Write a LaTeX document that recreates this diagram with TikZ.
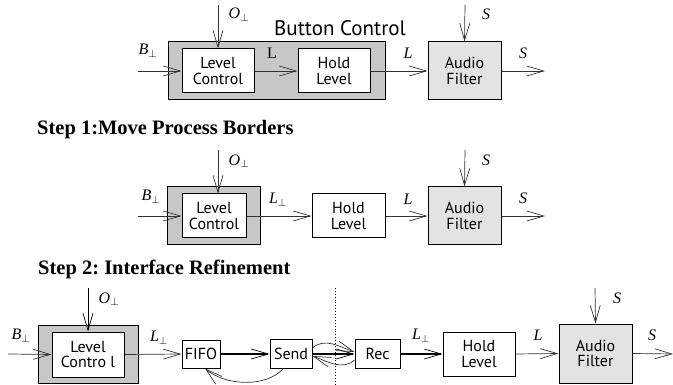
\documentclass[tikz,border=0pt]{standalone}
\usepackage{fontspec}
\setmainfont{Liberation Serif}
\newfontfamily\boxfont{PT Sans}
\usetikzlibrary{arrows.meta}
\frenchspacing

% signal names: italic Times-like letter with a perp subscript
\newcommand{\sigperp}[1]{\textit{#1}$_{\perp}$}

\begin{document}
\begin{tikzpicture}[x=1pt,y=-1pt,
  tip/.style={-{Straight Barb[length=17pt,width=10pt,line width=0.7pt]}},
  flow/.style={draw=black!80, line width=0.7pt, tip},
  thickflow/.style={draw=black, line width=1.4pt, -{Straight Barb[length=17pt,width=10pt,line width=0.7pt]}},
  blockbox/.style={draw=black, line width=1pt, fill=white, align=center,
    inner sep=0pt, font=\boxfont\fontsize{16}{15.5}\selectfont},
  groupbox/.style={draw=black, line width=1pt, fill=black!22, inner sep=0pt},
  filterbox/.style={blockbox, fill=black!11},
  lbl/.style={font=\fontsize{16}{16}\selectfont, inner sep=0pt},
  heading/.style={font=\bfseries\fontsize{20.5}{21}\selectfont, inner sep=0pt, anchor=base west}
]
\useasboundingbox (0,0) rectangle (673,385);

% ---------- original composition ----------
\node[groupbox, minimum width=217pt, minimum height=58pt] (bc) at (276.5,71) {};
\node[font=\boxfont\fontsize{21}{21}\selectfont, inner sep=0pt] (bctitle) at (340,28) {Button Control};
\node[blockbox, minimum width=72pt, minimum height=44pt] (lc1) at (218,71) {Level\\Control};
\node[blockbox, minimum width=72pt, minimum height=44pt] (hl1) at (334,71) {Hold\\Level};
\node[filterbox, minimum width=73pt, minimum height=58pt] (af1) at (464.5,71) {Audio\\Filter};
\coordinate (b1) at (138,71);
\coordinate (o1) at (218,5);
\coordinate (s1in) at (465,5);
\coordinate (s1out) at (545,71);
\draw[flow] (b1) -- (lc1.west);
\draw[flow] (o1) -- (lc1.north);
\draw[flow] (lc1.east) -- (hl1.west);
\draw[flow] (hl1.east) -- (af1.west);
\draw[flow] (s1in) -- (af1.north);
\draw[flow] (af1.east) -- (s1out);
\node[lbl] (b1l) at (148,51) {\sigperp{B}};
\node[lbl] (o1l) at (239,15) {\sigperp{O}};
\node[lbl] (l1a) at (272,53) {L};
\node[lbl] (l1b) at (408,53) {\textit{L}};
\node[lbl] (s1a) at (486,14) {\textit{S}};
\node[lbl] (s1b) at (523,53) {\textit{S}};

% ---------- step 1 ----------
\node[heading] (h1) at (37,135) {Step 1:Move Process Borders};
\node[groupbox, minimum width=93pt, minimum height=58pt] (lcb2) at (213.5,216) {};
\node[blockbox, minimum width=64pt, minimum height=44pt] (lc2) at (214,216) {Level\\Control};
\node[blockbox, minimum width=73pt, minimum height=44pt] (hl2) at (348.5,216) {Hold\\Level};
\node[filterbox, minimum width=73pt, minimum height=58pt] (af2) at (464.5,216) {Audio\\Filter};
\coordinate (b2) at (138,216);
\coordinate (o2) at (218,150);
\coordinate (s2in) at (465,150);
\coordinate (s2out) at (545,216);
\draw[flow] (b2) -- (lc2.west);
\draw[flow] (o2) -- (o2 |- lc2.north);
\draw[flow] (lc2.east) -- (hl2.west);
\draw[flow] (hl2.east) -- (af2.west);
\draw[flow] (s2in) -- (af2.north);
\draw[flow] (af2.east) -- (s2out);
\node[lbl] (b2l) at (151,197) {\sigperp{B}};
\node[lbl] (o2l) at (239,161) {\sigperp{O}};
\node[lbl] (l2a) at (278,200) {\sigperp{L}};
\node[lbl] (l2b) at (408,199) {\textit{L}};
\node[lbl] (s2a) at (486,160) {\textit{S}};
\node[lbl] (s2b) at (523,198) {\textit{S}};

% ---------- step 2 ----------
\node[heading] (h2) at (38,275) {Step 2: Interface Refinement};
\node[groupbox, minimum width=100pt, minimum height=58pt] (lcb3) at (88,354) {};
\node[blockbox, minimum width=72pt, minimum height=45pt] (lc3) at (88,354.5) {Level\\Contro l};
\node[blockbox, minimum width=38pt, minimum height=28pt] (fifo) at (201,354) {FIFO};
\node[blockbox, minimum width=42pt, minimum height=29pt] (send) at (291,354) {Send};
\node[blockbox, minimum width=45pt, minimum height=29pt] (rec) at (377.5,354) {Rec};
\node[blockbox, minimum width=72pt, minimum height=44pt] (hl3) at (479,354) {Hold\\Level};
\node[filterbox, minimum width=73pt, minimum height=59pt] (af3) at (595.5,353.5) {Audio\\Filter};
\coordinate (b3) at (8,354);
\coordinate (o3) at (88,288);
\coordinate (s3in) at (595,288);
\coordinate (s3out) at (673,354);
\coordinate (dtop) at (335,288);
\coordinate (dbot) at (335,385);
\draw[black, line width=0.9pt, dotted] (dtop) -- (dbot);
\draw[flow] (b3) -- (lc3.west);
\draw[flow, draw=black, line width=1pt] (o3) -- (lc3.north);
\draw[flow] (lc3.east) -- (fifo.west);
\draw[thickflow] (fifo.east) -- (send.west);
\draw[thickflow] (send.east) -- (rec.west);
\draw[flow] ([yshift=6pt]send.east) .. controls +(12,-11) and +(-14,-5) .. ([yshift=2pt]rec.west);
\draw[flow] ([yshift=-6pt]rec.west) .. controls +(-12,11) and +(14,5) .. ([yshift=-2pt]send.east);
\draw[flow] ([xshift=-8pt]send.south) .. controls +(-18,19) and +(20,17) .. ([xshift=4pt]fifo.south);
\draw[thickflow] (rec.east) -- (hl3.west);
\draw[flow] (hl3.east) -- (af3.west);
\draw[flow] (s3in) -- (af3.north);
\draw[flow] (af3.east) -- (s3out);
\node[lbl] (b3l) at (21,336) {\sigperp{B}};
\node[lbl] (o3l) at (109,299) {\sigperp{O}};
\node[lbl] (l3a) at (159,338) {\sigperp{L}};
\node[lbl] (l3b) at (421,336) {\sigperp{L}};
\node[lbl] (l3c) at (538,335) {\textit{L}};
\node[lbl] (s3a) at (617,298) {\textit{S}};
\node[lbl] (s3b) at (652,335) {\textit{S}};
\end{tikzpicture}
\end{document}
